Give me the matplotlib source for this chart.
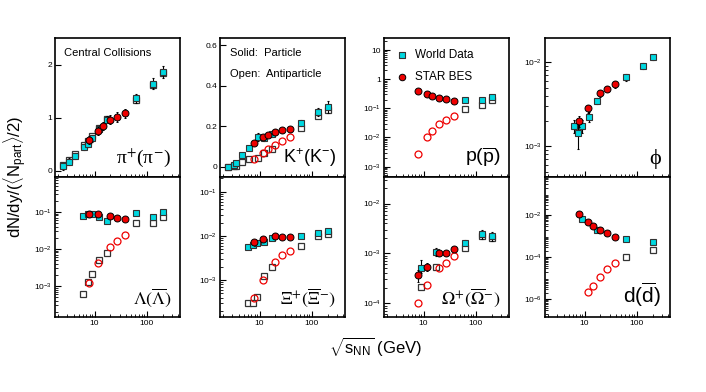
import matplotlib
matplotlib.use("Agg")
import matplotlib.pyplot as plt
import numpy as np

plt.rcParams['font.family'] = ['Liberation Sans', 'DejaVu Sans']
plt.rcParams['mathtext.fontset'] = 'custom'
plt.rcParams['mathtext.rm'] = 'Liberation Sans'
plt.rcParams['mathtext.it'] = 'Liberation Sans:italic'
plt.rcParams['mathtext.bf'] = 'Liberation Sans:bold'

# beam energies (GeV)
star = [7.7, 11.5, 14.5, 19.6, 27, 39]
star_nophi = [7.7, 11.5, 19.6, 27, 39]

# ---- pi+ (pi-)
pi_world_x = [2.5, 3.2, 4.2, 6.2, 7.6, 8.8, 12.3, 17.3, 62.4, 130, 200]
pi_world = [0.08, 0.17, 0.27, 0.44, 0.50, 0.61, 0.78, 0.96, 1.36, 1.64, 1.86]
pi_world_anti = [0.11, 0.20, 0.32, 0.48, 0.55, 0.65, 0.80, 0.98, 1.34, 1.62, 1.84]
pi_world_err = [0.06, 0.06, 0.06, 0.06, 0.06, 0.07, 0.07, 0.07, 0.09, 0.10, 0.12]
pi_star = [0.58, 0.75, 0.84, 0.96, 1.01, 1.08]
pi_star_err = [0.07, 0.07, 0.07, 0.09, 0.09, 0.09]

# ---- K+ (K-)
k_world_x = [2.5, 3.2, 3.6, 4.6, 6.2, 9.2, 12.3, 17.3, 62.4, 130, 200]
k_world = [0.0, 0.008, 0.02, 0.06, 0.094, 0.145, 0.14, 0.16, 0.217, 0.27, 0.293]
k_world_anti = [0.0, 0.002, 0.004, 0.025, 0.04, 0.044, 0.066, 0.09, 0.193, 0.25, 0.28]
k_world_err = [0.005, 0.005, 0.005, 0.008, 0.01, 0.02, 0.015, 0.015, 0.015, 0.02, 0.03]
k_star = [0.119, 0.145, 0.157, 0.173, 0.181, 0.186]
k_star_anti = [0.041, 0.069, 0.087, 0.107, 0.127, 0.145]
k_star_err = [0.01, 0.01, 0.01, 0.012, 0.012, 0.012]

# ---- p (pbar)
p_world_x = [62.4, 130, 200]
p_world = [0.20, 0.20, 0.24]
p_world_anti = [0.093, 0.13, 0.19]
p_star = [0.40, 0.31, 0.27, 0.23, 0.21, 0.18]
p_star_anti = [0.0027, 0.010, 0.017, 0.028, 0.040, 0.056]

# ---- phi
phi_world_x = [6.3, 7.6, 8.8, 12.3, 17.3, 62.4, 130, 200]
phi_world = [1.74e-3, 1.42e-3, 1.74e-3, 2.24e-3, 3.47e-3, 6.6e-3, 9.1e-3, 1.15e-2]
phi_world_err = [3e-4, 5e-4, 3e-4, 3e-4, 3e-4, 6e-4, 8e-4, 8e-4]
phi_star_x = [7.7, 11.5, 19.6, 27, 39]
phi_star = [2.0e-3, 2.82e-3, 4.26e-3, 4.84e-3, 5.5e-3]
phi_star_err = [3e-4, 3e-4, 4e-4, 4e-4, 5e-4]

# ---- Lambda (Lambdabar)
lam_world_x = [6.0, 7.6, 8.8, 12.3, 17.3, 62.4, 130, 200]
lam_world = [0.078, 0.085, 0.087, 0.073, 0.057, 0.091, 0.073, 0.096]
lam_world_anti = [6.2e-4, 1.25e-3, 2.1e-3, 5.0e-3, 7.6e-3, 0.049, 0.051, 0.074]
lam_star = [0.090, 0.090, 0.077, 0.069, 0.066]
lam_star_anti = [1.23e-3, 4.1e-3, 0.0115, 0.0166, 0.0236]

# ---- Xi
xi_world_x = [6.1, 7.6, 8.8, 12.3, 17.3, 62.4, 130, 200]
xi_world = [5.5e-3, 6.3e-3, 6.8e-3, 7.4e-3, 8.9e-3, 0.010, 0.0118, 0.0129]
xi_world_anti = [3.0e-4, 3.0e-4, 4.1e-4, 1.23e-3, 2.0e-3, 6.0e-3, 0.010, 0.011]
xi_star = [7.4e-3, 8.3e-3, 0.010, 9.3e-3, 9.2e-3]
xi_star_anti = [4.0e-4, 1.0e-3, 2.6e-3, 3.6e-3, 4.6e-3]

# ---- Omega
om_world_x = [8.8, 17.3, 62.4, 130, 200]
om_world = [5.0e-4, 1.07e-3, 1.58e-3, 2.4e-3, 2.2e-3]
om_world_anti = [2.1e-4, 5.4e-4, 1.26e-3, 2.2e-3, 2.0e-3]
om_star = [3.7e-4, 5.4e-4, 1.0e-3, 1.0e-3, 1.22e-3]
om_star_anti = [1.0e-4, 2.3e-4, 5.2e-4, 6.3e-4, 8.9e-4]

# ---- d (dbar)
d_world_x = [8.8, 17.3, 62.4, 200]
d_world = [6.5e-3, 1.95e-3, 7.1e-4, 5.1e-4]
d_world_anti_x = [62.4, 200]
d_world_anti = [1.0e-4, 2.3e-4]
d_star = [0.0108, 4.8e-3, 3.1e-3, 1.95e-3, 1.35e-3, 8.8e-4]
d_star_anti_x = [11.5, 14.5, 19.6, 27, 39]
d_star_anti = [2.3e-6, 4.4e-6, 1.2e-5, 2.9e-5, 5.5e-5]

CYAN = '#00d8e0'
RED = '#ee0000'
W, H = 706, 392
lefts = [55, 220, 384, 545]
pw = 125
rows = [(38, 177), (177, 317)]
SERIF = ['Liberation Serif', 'DejaVu Serif']

fig = plt.figure(figsize=(7.06, 3.92), dpi=100)


def make_ax(col, row, log):
    top, bot = rows[row]
    ax = fig.add_axes([lefts[col] / W, 1 - bot / H, pw / W, (bot - top) / H])
    ax.set_xscale('log')
    ax.set_xlim(1.75, 430)
    if log:
        ax.set_yscale('log')
    ax.tick_params(which='both', direction='in', top=False, right=False,
                   labelsize=6, pad=2)
    ax.tick_params(which='major', length=4)
    ax.tick_params(which='minor', length=2)
    for s in ax.spines.values():
        s.set_linewidth(1.2)
    ax.set_xticks([10, 100])
    if row == 1:
        ax.set_xticklabels(['10', '100'])
    else:
        ax.set_xticklabels([])
    return ax


def world(ax, x, y, anti=None, err=None, anti_x=None):
    if anti is not None:
        ax.errorbar(anti_x if anti_x else x, anti, fmt='s', ms=5, mfc='white',
                    mec='#333333', mew=0.9, color='k', zorder=2)
    ax.errorbar(x, y, yerr=err, fmt='s', ms=5, mfc=CYAN, mec='#333333',
                mew=0.8, ecolor='k', elinewidth=0.8, capsize=1, zorder=3)


def bes(ax, x, y, anti=None, err=None, anti_x=None):
    if anti is not None:
        ax.plot(anti_x if anti_x else x, anti, 'o', ms=5, mfc='none', mec=RED,
                mew=0.9, zorder=4)
    ax.errorbar(x, y, yerr=err, fmt='o', ms=5, mfc=RED, mec='k', mew=0.7,
                ecolor='k', elinewidth=0.8, capsize=1, zorder=5)


def label(ax, s, serif=True, size=None):
    if serif:
        ax.text(0.93, 0.06, s, transform=ax.transAxes, ha='right', va='bottom',
                fontsize=size or 13, family=SERIF, math_fontfamily='stix')
    else:
        ax.text(0.93, 0.06, s, transform=ax.transAxes, ha='right', va='bottom',
                fontsize=size or 14)


# pi
ax = make_ax(0, 0, False)
ax.set_ylim(-0.12, 2.5)
ax.set_yticks([0, 1, 2])
ax.set_yticklabels(['0', '1', '2'])
ax.errorbar(pi_world_x, pi_world_anti, fmt='s', ms=5, mfc='white', mec='#333333', mew=0.9, zorder=2)
world(ax, pi_world_x, pi_world, err=pi_world_err)
bes(ax, star, pi_star, err=pi_star_err)
ax.text(0.07, 0.89, 'Central Collisions', transform=ax.transAxes, fontsize=8, va='center')
label(ax, r'π$^{+}$(π$^{-}$)', size=14)

# K
ax = make_ax(1, 0, False)
ax.set_ylim(-0.05, 0.635)
ax.set_yticks([0, 0.2, 0.4, 0.6])
ax.set_yticklabels(['0', '0.2', '0.4', '0.6'])
world(ax, k_world_x, k_world, anti=k_world_anti, err=k_world_err)
bes(ax, star, k_star, anti=k_star_anti, err=k_star_err)
ax.text(0.08, 0.89, 'Solid:  Particle', transform=ax.transAxes, fontsize=8, va='center')
ax.text(0.08, 0.74, 'Open:  Antiparticle', transform=ax.transAxes, fontsize=8, va='center')
label(ax, r'K$^{+}$(K$^{-}$)', serif=False, size=13)

# p
ax = make_ax(2, 0, True)
ax.set_ylim(4.4e-4, 26)
ax.set_yticks([1e-3, 1e-2, 1e-1, 1, 10])
ax.set_yticklabels([r'$10^{-3}$', r'$10^{-2}$', r'$10^{-1}$', '1', '10'])
world(ax, p_world_x, p_world, anti=p_world_anti)
bes(ax, star, p_star, anti=p_star_anti)
h1 = ax.scatter([], [], marker='s', s=22, c=CYAN, edgecolors='#333333', linewidths=0.8)
h2 = ax.scatter([], [], marker='o', s=22, c=RED, edgecolors='k', linewidths=0.7)
ax.legend([h1, h2], ['World Data', 'STAR BES'], loc='upper left', frameon=False,
          fontsize=8.5, handletextpad=0.5, labelspacing=0.9, borderaxespad=0.5,
          handlelength=1.2)
label(ax, r'p($\overline{\mathrm{p}}$)', serif=False)

# phi
ax = make_ax(3, 0, True)
ax.set_ylim(4.3e-4, 1.95e-2)
ax.set_yticks([1e-3, 1e-2])
ax.set_yticklabels([r'$10^{-3}$', r'$10^{-2}$'])
world(ax, phi_world_x, phi_world, err=phi_world_err)
bes(ax, phi_star_x, phi_star, err=phi_star_err)
label(ax, 'ϕ', size=16)

# Lambda
ax = make_ax(0, 1, True)
ax.set_ylim(1.45e-4, 0.87)
ax.set_yticks([1e-3, 1e-2, 1e-1])
ax.set_yticklabels([r'$10^{-3}$', r'$10^{-2}$', r'$10^{-1}$'])
world(ax, lam_world_x, lam_world, anti=lam_world_anti)
bes(ax, star_nophi, lam_star, anti=lam_star_anti)
label(ax, r'$\Lambda(\overline{\Lambda})$')

# Xi
ax = make_ax(1, 1, True)
ax.set_ylim(1.45e-4, 0.216)
ax.set_yticks([1e-3, 1e-2, 1e-1])
ax.set_yticklabels([r'$10^{-3}$', r'$10^{-2}$', r'$10^{-1}$'])
world(ax, xi_world_x, xi_world, anti=xi_world_anti)
bes(ax, star_nophi, xi_star, anti=xi_star_anti)
label(ax, r'$\Xi^{+}(\overline{\Xi}^{-})$')

# Omega
ax = make_ax(2, 1, True)
ax.set_ylim(5.3e-5, 0.034)
ax.set_yticks([1e-4, 1e-3, 1e-2])
ax.set_yticklabels([r'$10^{-4}$', r'$10^{-3}$', r'$10^{-2}$'])
world(ax, om_world_x, om_world, anti=om_world_anti, err=[[1e-4, 2e-4, 2e-4, 5e-4, 4e-4], [2.5e-4, 2e-4, 3e-4, 6e-4, 5e-4]])
bes(ax, star_nophi, om_star, anti=om_star_anti, err=[1e-4, 1e-4, 1e-4, 1e-4, 1.2e-4])
label(ax, r'$\Omega^{+}(\overline{\Omega}^{-})$')

# d
ax = make_ax(3, 1, True)
ax.set_ylim(1.45e-7, 0.65)
ax.set_yticks([1e-6, 1e-4, 1e-2])
ax.set_yticklabels([r'$10^{-6}$', r'$10^{-4}$', r'$10^{-2}$'])
world(ax, d_world_x, d_world, anti=d_world_anti, anti_x=d_world_anti_x)
bes(ax, star, d_star, anti=d_star_anti, anti_x=d_star_anti_x)
label(ax, r'd($\overline{\mathrm{d}}$)', serif=False, size=15)

fig.text(15 / W, 1 - 177 / H, r'dN/dy/($\langle$N$_{\mathrm{part}}\rangle$/2)',
         rotation=90, ha='center', va='center', fontsize=12)
fig.text(376 / W, 1 - 347 / H, r'$\sqrt{\mathrm{s}_{\mathrm{NN}}}$ (GeV)',
         ha='center', va='center', fontsize=12)

fig.savefig('out.png', dpi=100)
